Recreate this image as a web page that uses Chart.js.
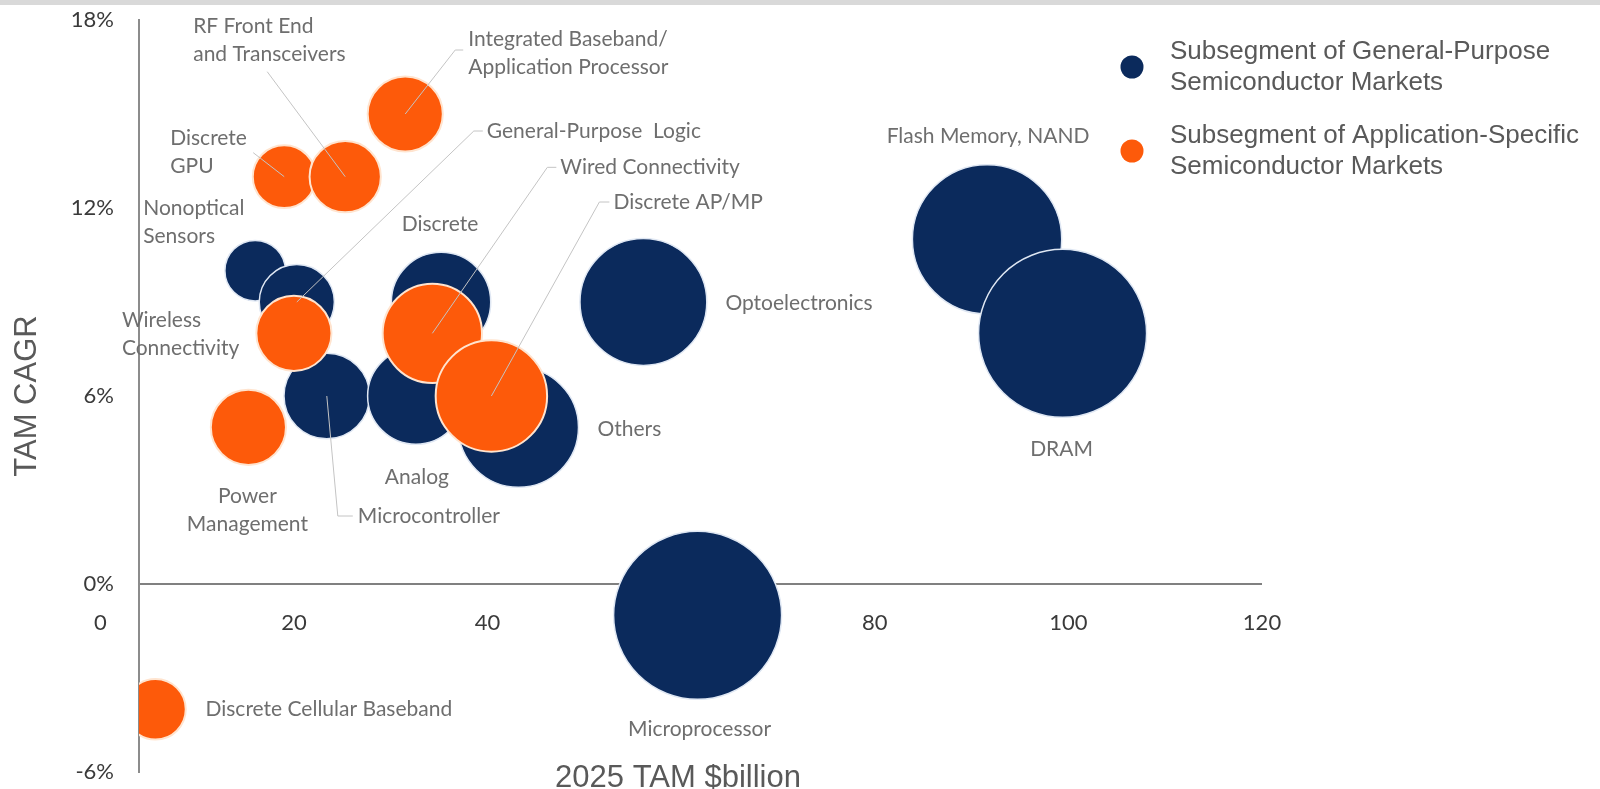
<!DOCTYPE html>
<html lang="en">
<head>
    <meta charset="UTF-8">
    <title>Semiconductor Subsegments: 2025 TAM vs. TAM CAGR</title>
    <script src="https://cdn.jsdelivr.net/npm/chart.js"></script>
    <style>
        html, body { margin: 0; padding: 0; background: #fff; }
        .chart-box { position: relative; width: 1600px; height: 789px; }
        .top-band { position: absolute; left: 0; top: 0; width: 1600px; height: 5px; background: #d9d9d9; }
    </style>
</head>
<body>
    <div class="chart-box">
        <canvas id="tamChart"></canvas>
        <div class="top-band"></div>
    </div>

    <script>
        // General-purpose subsegments: 2025 TAM ($B), TAM CAGR (%), bubble size
        const gpNames = ['Nonoptical Sensors', 'General-Purpose Logic', 'Microcontroller', 'Analog', 'Discrete',
                         'Others', 'Optoelectronics', 'Microprocessor', 'Flash Memory, NAND', 'DRAM'];
        const gpTam  = [16.0, 20.3, 23.4, 32.6, 35.2, 43.2, 56.1, 61.7, 91.6, 99.4];
        const gpCagr = [10, 9, 6, 6, 9, 5, 9, -1, 11, 8];
        const gpSize = [13, 20, 26, 33, 35, 51, 57, 100, 79, 100];

        // Application-specific subsegments
        const asNames = ['Discrete Cellular Baseband', 'Power Management', 'Wireless Connectivity', 'Discrete GPU',
                         'RF Front End and Transceivers', 'Integrated Baseband/Application Processor',
                         'Wired Connectivity', 'Discrete AP/MP'];
        const asTam  = [5.7, 15.3, 20.0, 19.0, 25.3, 31.5, 34.3, 40.4];
        const asCagr = [-4, 5, 8, 13, 13, 15, 8, 6];
        const asSize = [13, 20, 20, 14, 18, 20, 35, 44];

        const xTicks = [0, 20, 40, 60, 80, 100, 120];
        const yTicks = [-6, 0, 6, 12, 18];
        const xAxisStart = 4;   // the CAGR axis crosses here

        const NAVY = '#0b2a5c';
        const ORANGE = '#fd5a0a';

        // bubble area follows size
        const radiusFor = s => 8.4 * Math.sqrt(s);
        const toPoints = (tam, cagr, size) => tam.map((v, i) => ({ x: v, y: cagr[i], r: radiusFor(size[i]) }));

        // where each data label sits, relative to its bubble centre (px)
        const labelLayout = {
            'Nonoptical Sensors': { lines: ['Nonoptical', 'Sensors'], dx: -112, dy: -62 },
            'General-Purpose Logic': { lines: ['General-Purpose  Logic'], dx: 190, dy: -171, leader: [[186, -171], [177, -171]] },
            'Microcontroller': { lines: ['Microcontroller'], dx: 31, dy: 120, leader: [[26, 120], [11, 120]] },
            'Analog': { lines: ['Analog'], dx: 1, dy: 81, align: 'center' },
            'Discrete': { lines: ['Discrete'], dx: -1, dy: -78, align: 'center' },
            'Others': { lines: ['Others'], dx: 79, dy: 2 },
            'Optoelectronics': { lines: ['Optoelectronics'], dx: 82, dy: 1 },
            'Microprocessor': { lines: ['Microprocessor'], dx: 2, dy: 114, align: 'center' },
            'Flash Memory, NAND': { lines: ['Flash Memory, NAND'], dx: 1, dy: -103, align: 'center' },
            'DRAM': { lines: ['DRAM'], dx: -1, dy: 116, align: 'center' },
            'Discrete Cellular Baseband': { lines: ['Discrete Cellular Baseband'], dx: 50, dy: 0 },
            'Power Management': { lines: ['Power', 'Management'], dx: -1, dy: 69, align: 'center' },
            'Wireless Connectivity': { lines: ['Wireless', 'Connectivity'], dx: -172, dy: -13 },
            'Discrete GPU': { lines: ['Discrete', 'GPU'], dx: -114, dy: -38, leader: [[-31, -24]] },
            'RF Front End and Transceivers': { lines: ['RF Front End', 'and Transceivers'], dx: -152, dy: -150, leader: [[-78, -105]] },
            'Integrated Baseband/Application Processor': { lines: ['Integrated Baseband/', 'Application Processor'], dx: 63, dy: -75, leader: [[58, -64], [50, -64]] },
            'Wired Connectivity': { lines: ['Wired Connectivity'], dx: 128, dy: -166, leader: [[124, -166], [115, -166]] },
            'Discrete AP/MP': { lines: ['Discrete AP/MP'], dx: 122, dy: -194, leader: [[118, -194], [108, -194]] }
        };

        const LABEL_FONT = '21px Lato';
        const LINE_STEP = 28;

        // data labels with leader lines, legend and axis titles
        const annotations = {
            id: 'annotations',
            afterDatasetsDraw(chart) {
                const ctx = chart.ctx;
                ctx.save();
                const placed = [];
                chart.data.datasets.forEach((ds, di) => {
                    const meta = chart.getDatasetMeta(di);
                    ds.names.forEach((name, i) => {
                        placed.push({ el: meta.data[i], lay: labelLayout[name] });
                    });
                });

                // leader lines first
                ctx.strokeStyle = '#c4c4c4';
                ctx.lineWidth = 1;
                placed.forEach(({ el, lay }) => {
                    if (!lay.leader) return;
                    ctx.beginPath();
                    lay.leader.forEach(([dx, dy], k) => {
                        if (k === 0) ctx.moveTo(el.x + dx, el.y + dy);
                        else ctx.lineTo(el.x + dx, el.y + dy);
                    });
                    ctx.lineTo(el.x, el.y);
                    ctx.stroke();
                });

                ctx.font = LABEL_FONT;
                ctx.fillStyle = '#6e6e6e';
                ctx.textBaseline = 'middle';
                placed.forEach(({ el, lay }) => {
                    ctx.textAlign = lay.align || 'left';
                    lay.lines.forEach((line, k) => {
                        ctx.fillText(line, el.x + lay.dx, el.y + lay.dy + k * LINE_STEP);
                    });
                });
                ctx.restore();
            },
            afterDraw(chart) {
                const ctx = chart.ctx;
                ctx.save();

                // axis titles
                ctx.font = '31px "Liberation Sans", Arial, sans-serif';
                ctx.fillStyle = '#595959';
                ctx.textAlign = 'center';
                ctx.textBaseline = 'alphabetic';
                ctx.fillText('2025 TAM $billion', 678, 787);
                ctx.translate(27, 396);
                ctx.rotate(-Math.PI / 2);
                ctx.textBaseline = 'middle';
                ctx.fillText('TAM CAGR', 0, 0);
                ctx.setTransform(1, 0, 0, 1, 0, 0);

                // legend
                const rows = [
                    { lines: ['Subsegment of General-Purpose', 'Semiconductor Markets'], top: 52 },
                    { lines: ['Subsegment of Application-Specific', 'Semiconductor Markets'], top: 136 }
                ];
                ctx.font = '26px "Liberation Sans", Arial, sans-serif';
                ctx.textAlign = 'left';
                ctx.textBaseline = 'middle';
                rows.forEach((row, i) => {
                    ctx.fillStyle = chart.data.datasets[i].backgroundColor;
                    ctx.beginPath();
                    ctx.arc(1132, row.top + 15, 11.5, 0, Math.PI * 2);
                    ctx.fill();
                    ctx.fillStyle = '#595959';
                    row.lines.forEach((line, k) => ctx.fillText(line, 1170, row.top + k * 31));
                });
                ctx.restore();
            }
        };

        Chart.defaults.font.family = 'Lato';

        const tamChart = new Chart(document.getElementById('tamChart'), {
            type: 'bubble',
            data: {
                datasets: [{
                    label: 'Subsegment of General-Purpose Semiconductor Markets',
                    names: gpNames,
                    data: toPoints(gpTam, gpCagr, gpSize),
                    backgroundColor: NAVY,
                    borderColor: '#dfe7f3',
                    borderWidth: 1.5,
                    order: 2
                }, {
                    label: 'Subsegment of Application-Specific Semiconductor Markets',
                    names: asNames,
                    data: toPoints(asTam, asCagr, asSize),
                    backgroundColor: ORANGE,
                    borderColor: '#ffe4cf',
                    borderWidth: 2,
                    order: 1
                }]
            },
            options: {
                responsive: true,
                maintainAspectRatio: false,
                animation: false,
                events: [],
                layout: {
                    autoPadding: false,   // big bubbles may spill past the plot edges
                    padding: { left: 0, top: 20, right: 338, bottom: 17 }
                },
                plugins: {
                    legend: { display: false },
                    tooltip: { enabled: false }
                },
                scales: {
                    x: {
                        type: 'linear',
                        min: xAxisStart,
                        max: 120,
                        position: { y: 0 },
                        z: 1,
                        afterBuildTicks: s => { s.ticks = xTicks.map(v => ({ value: v })); },
                        // labels hang below the 0% line, so the axis needs no room of its own
                        afterFit: s => {
                            s.height = 0;
                            s.paddingLeft = s.paddingRight = s.paddingTop = s.paddingBottom = 0;
                        },
                        ticks: {
                            color: '#3a3a3a',
                            font: { size: 22 },
                            padding: 26,
                            maxRotation: 0,
                            autoSkip: false
                        },
                        grid: { display: false, drawTicks: false },
                        border: { display: false }
                    },
                    y: {
                        type: 'linear',
                        min: -6,
                        max: 18,
                        position: 'left',
                        afterFit: s => {
                            s.width = 139;
                            s.paddingTop = s.paddingBottom = 0;
                        },
                        afterBuildTicks: s => { s.ticks = yTicks.map(v => ({ value: v })); },
                        ticks: {
                            callback: v => v + '%',
                            color: '#3a3a3a',
                            font: { size: 22 },
                            padding: 25
                        },
                        grid: {
                            color: c => (c.tick && c.tick.value === 0) ? '#808080' : 'rgba(0,0,0,0)',
                            lineWidth: 2,
                            drawTicks: false
                        },
                        border: { display: true, color: '#8c8c8c', width: 2 }
                    }
                }
            },
            plugins: [annotations]
        });
    </script>
</body>
</html>
